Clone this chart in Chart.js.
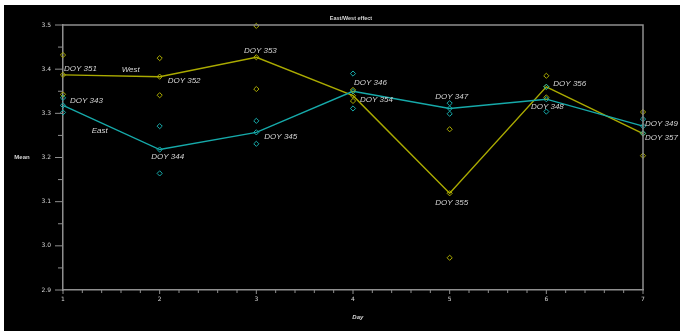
<!DOCTYPE html>
<html>
<head>
<meta charset="utf-8">
<script src="https://cdn.jsdelivr.net/npm/chart.js@4"></script>
<style>
  html, body { margin: 0; padding: 0; background: #fff; }
  #wrap { position: absolute; left: 4px; top: 5px; width: 676px; height: 326px; background: #000; }
</style>
</head>
<body>
<div id="wrap"><canvas id="chart-eastwest" width="676" height="326"></canvas></div>
<script>
// data
var days = [1, 2, 3, 4, 5, 6, 7];
var eastMean = [3.318, 3.218, 3.257, 3.350, 3.311, 3.332, 3.271];
var westMean = [3.387, 3.383, 3.427, 3.340, 3.119, 3.360, 3.254];
var eastObsA = [3.335, 3.271, 3.283, 3.390, 3.323, 3.360, 3.287];
var eastObsB = [3.302, 3.164, 3.231, 3.311, 3.299, 3.304, 3.255];
var westObsA = [3.432, 3.425, 3.498, 3.353, 3.264, 3.385, 3.303];
var westObsB = [3.343, 3.341, 3.355, 3.328, 2.973, 3.336, 3.204];
var eastDoy = ["DOY 343", "DOY 344", "DOY 345", "DOY 346", "DOY 347", "DOY 348", "DOY 349"];
var westDoy = ["DOY 351", "DOY 352", "DOY 353", "DOY 354", "DOY 355", "DOY 356", "DOY 357"];
var yTicks = [2.9, 3.0, 3.1, 3.2, 3.3, 3.4, 3.5];
var xTicks = [1, 2, 3, 4, 5, 6, 7];

// label placement (px offsets from the mean point)
var eastOffsets = [[7, -5, "left"], [8, 7, "center"], [8, 4, "left"], [1, -8, "left"], [2, -12, "center"], [1, 8, "center"], [2, -2, "left"]];
var westOffsets = [[1, -6, "left"], [8, 4, "left"], [4, -6, "center"], [7, 4, "left"], [2, 10, "center"], [7, -3, "left"], [2, 4, "left"]];

var CYAN = "#16aaaa";
var OLIVE = "#aaaa00";
var AXIS = "#8f8f8f";
var TEXT = "#d6d6d6";

function pts(ys) {
  return days.map(function(d, i) { return { x: d, y: ys[i] }; });
}

function near(v, list) {
  for (var i = 0; i < list.length; i++) {
    if (Math.abs(v - list[i]) < 1e-6) return true;
  }
  return false;
}

var decor = {
  id: "decor",
  afterDraw: function(chart) {
    var c = chart.ctx, a = chart.chartArea;
    var xs = chart.scales.x, ys = chart.scales.y;
    c.save();
    c.strokeStyle = AXIS;
    c.lineWidth = 1.5;
    c.beginPath();
    c.moveTo(a.left, a.top); c.lineTo(a.right, a.top); c.lineTo(a.right, a.bottom);
    c.stroke();
    // ticks
    c.lineWidth = 1;
    c.beginPath();
    ys.ticks.forEach(function(t) {
      var p = ys.getPixelForValue(t.value);
      var len = near(t.value, yTicks) ? 8 : 5;
      c.moveTo(a.left - len, p); c.lineTo(a.left, p);
    });
    xs.ticks.forEach(function(t) {
      var p = xs.getPixelForValue(t.value);
      var len = near(t.value, xTicks) ? 4 : 3;
      c.moveTo(p, a.bottom); c.lineTo(p, a.bottom + len);
    });
    c.stroke();

    // titles
    c.fillStyle = TEXT;
    c.textBaseline = "middle";
    c.textAlign = "center";
    c.font = "bold 5.5px 'Liberation Sans'";
    c.fillText("East/West effect", (a.left + a.right) / 2 - 2, a.top - 7);
    c.font = "bold 6px 'Liberation Sans'";
    c.fillText("Mean", 18, ys.getPixelForValue(3.2));
    c.font = "italic bold 6px 'Liberation Sans'";
    c.fillText("Day", xs.getPixelForValue(4.05), a.bottom + 27);

    // DOY labels
    c.font = "italic 8px 'Liberation Sans'";
    function lab(names, means, offs) {
      names.forEach(function(n, i) {
        var px = xs.getPixelForValue(days[i]) + offs[i][0];
        var py = ys.getPixelForValue(means[i]) + offs[i][1];
        c.textAlign = offs[i][2];
        c.fillText(n, px, py);
      });
    }
    lab(eastDoy, eastMean, eastOffsets);
    lab(westDoy, westMean, westOffsets);
    c.textAlign = "center";
    c.fillText("West", xs.getPixelForValue(1.70), ys.getPixelForValue(3.398));
    c.fillText("East", xs.getPixelForValue(1.38), ys.getPixelForValue(3.261));
    c.restore();
  }
};

var ctx = document.getElementById("chart-eastwest").getContext("2d");

function obsSet(data, color) {
  return {
    data: pts(data),
    showLine: false,
    pointStyle: "rectRot",
    pointRadius: 2.6,
    pointBorderWidth: 1,
    pointBorderColor: color,
    pointBackgroundColor: "rgba(0,0,0,0)",
    clip: false
  };
}

function meanSet(data, color) {
  return {
    data: pts(data),
    showLine: true,
    borderColor: color,
    borderWidth: 1.4,
    pointStyle: "rectRot",
    pointRadius: 2.6,
    pointBorderWidth: 1,
    pointBorderColor: color,
    pointBackgroundColor: "rgba(0,0,0,0)",
    clip: false
  };
}

var chart = new Chart(ctx, {
  type: "scatter",
  data: {
    datasets: [
      obsSet(eastObsA, CYAN),
      obsSet(eastObsB, CYAN),
      obsSet(westObsA, OLIVE),
      obsSet(westObsB, OLIVE),
      meanSet(eastMean, CYAN),
      meanSet(westMean, OLIVE)
    ]
  },
  options: {
    responsive: false,
    animation: false,
    events: [],
    layout: { padding: { top: 20, right: 37, left: 0, bottom: 0 }, autoPadding: false },
    plugins: { legend: { display: false }, tooltip: { enabled: false }, title: { display: false } },
    scales: {
      x: {
        type: "linear",
        min: 1,
        max: 7,
        afterFit: function(s) { s.height = 41; },
        grid: { drawOnChartArea: false, drawTicks: false },
        border: { display: true, color: AXIS, width: 1.5 },
        ticks: {
          stepSize: 0.2,
          padding: 6,
          autoSkip: false,
          maxRotation: 0,
          color: TEXT,
          font: { family: "DejaVu Sans", size: 6 },
          callback: function(v) { return near(v, xTicks) ? String(Math.round(v)) : ""; }
        }
      },
      y: {
        type: "linear",
        min: 2.9,
        max: 3.5,
        afterFit: function(s) { s.width = 59; },
        grid: { drawOnChartArea: false, drawTicks: false },
        border: { display: true, color: AXIS, width: 1.5 },
        ticks: {
          stepSize: 0.05,
          padding: 12,
          autoSkip: false,
          color: TEXT,
          font: { family: "DejaVu Sans", size: 6 },
          callback: function(v) { return near(v, yTicks) ? v.toFixed(1) : ""; }
        }
      }
    }
  },
  plugins: [decor]
});
</script>
</body>
</html>
